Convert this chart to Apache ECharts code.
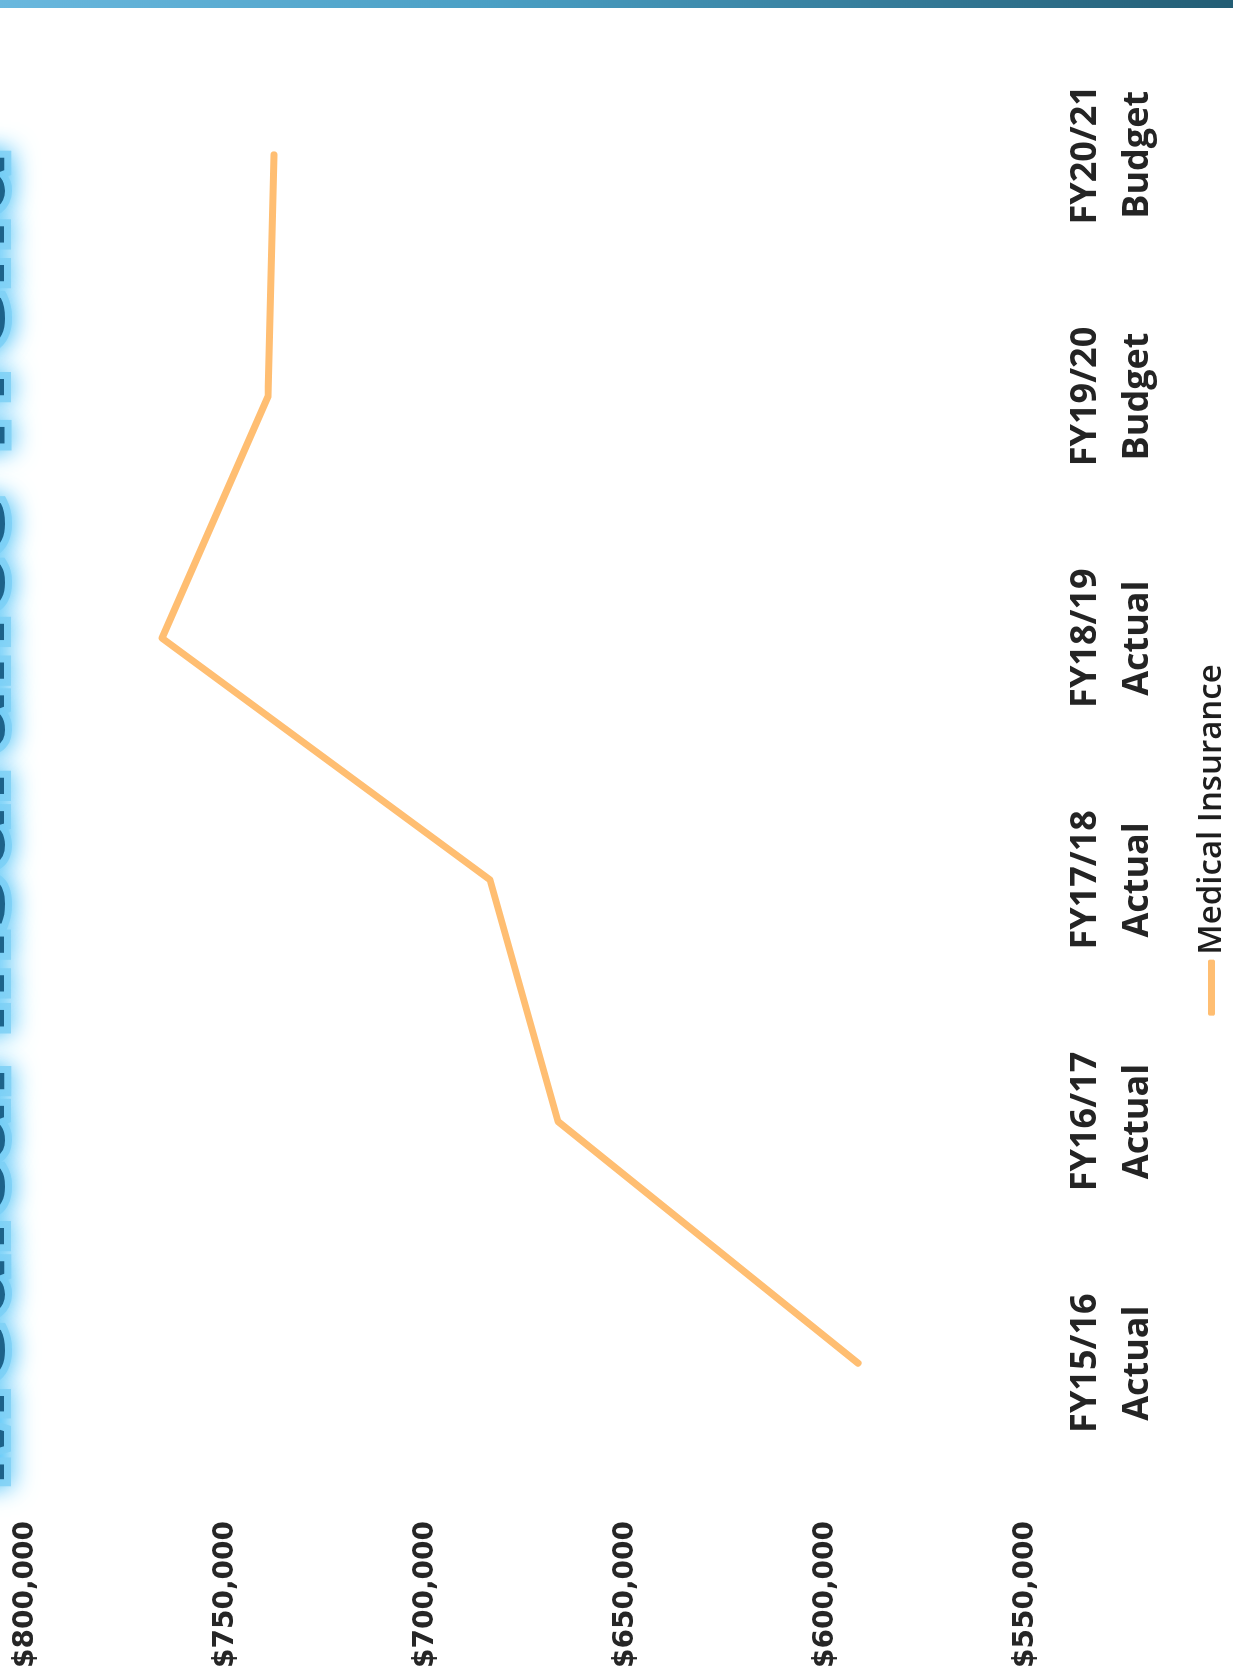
<!DOCTYPE html>
<html>
<head>
<meta charset="utf-8">
<script src="https://cdn.jsdelivr.net/npm/echarts@6/dist/echarts.min.js"></script>
<style>
  html, body { margin: 0; padding: 0; background: #ffffff; overflow: hidden; }
  #page { position: absolute; left: 0; top: 0; width: 1233px; height: 1680px; overflow: hidden; background: #fff; }
  /* the slide is laid out landscape and turned a quarter turn to portrait */
  #chart {
    position: absolute; left: 0; top: 0;
    width: 1680px; height: 1233px;
    transform-origin: 0 0;
    transform: translateY(1680px) rotate(-90deg);
  }
</style>
</head>
<body>
<div id="page"><div id="chart"></div></div>
<script>
// Medical insurance cost by fiscal year
const categories = [
  'FY15/16\nActual',
  'FY16/17\nActual',
  'FY17/18\nActual',
  'FY18/19\nActual',
  'FY19/20\nBudget',
  'FY20/21\nBudget'
];
const seriesName = 'Medical Insurance';
const medicalInsurance = [592000, 667000, 684000, 766000, 739500, 738000];
const valueMin = 550000;
const valueMax = 800000;
const valueStep = 50000;
const slideTitle = 'Medical Insurance Trend';

const chart = echarts.init(document.getElementById('chart'), null, { renderer: 'canvas' });

chart.setOption({
  backgroundColor: '#ffffff',
  animation: false,
  grid: { left: 196, top: 26, width: 1450, height: 1000, containLabel: false },
  legend: {
    data: [{ name: seriesName, icon: 'roundRect' }],
    left: 'center',
    top: 1190,
    itemWidth: 56,
    itemHeight: 7,
    textStyle: { fontFamily: 'Open Sans', fontWeight: 600, fontSize: 33, color: '#1e1e1e' }
  },
  xAxis: {
    type: 'category',
    data: categories,
    boundaryGap: true,
    axisLine: { show: false },
    axisTick: { show: false },
    splitLine: { show: false },
    axisLabel: {
      interval: 0,
      margin: 34,
      fontFamily: 'Open Sans',
      fontWeight: 'bold',
      fontSize: 36,
      lineHeight: 52,
      color: '#242424'
    }
  },
  yAxis: {
    type: 'value',
    min: valueMin,
    max: valueMax,
    interval: valueStep,
    axisLine: { show: false },
    axisTick: { show: false },
    splitLine: { show: false },
    axisLabel: {
      margin: 37,
      fontFamily: 'DejaVu Sans',
      fontWeight: 'bold',
      fontSize: 28,
      color: '#262626',
      formatter: v => '$' + v.toLocaleString('en-US')
    }
  },
  series: [{
    name: seriesName,
    type: 'line',
    data: medicalInsurance,
    showSymbol: false,
    symbol: 'none',
    itemStyle: { color: '#FFBE72' },
    lineStyle: { width: 7, color: '#FFBE72', cap: 'round', join: 'round' }
  }],
  graphic: [
    {
      // heading band along the top edge of the slide, with a soft blue halo
      type: 'text',
      left: 184,
      top: -89,
      silent: true,
      style: {
        text: slideTitle,
        fontFamily: 'Open Sans',
        fontWeight: 'bold',
        fontSize: 109,
        fill: '#1d6289',
        stroke: '#8fd6f6',
        lineWidth: 14,
        textShadowColor: '#4fc3f7',
        textShadowBlur: 26
      }
    },
    {
      // accent stripe along the right edge of the slide
      type: 'rect',
      shape: { x: 1672, y: 0, width: 8, height: 1233 },
      silent: true,
      style: {
        fill: new echarts.graphic.LinearGradient(0, 0, 0, 1, [
          { offset: 0, color: '#6ab8de' },
          { offset: 0.4, color: '#4a9fc4' },
          { offset: 1, color: '#235d74' }
        ])
      }
    }
  ]
});
</script>
</body>
</html>
